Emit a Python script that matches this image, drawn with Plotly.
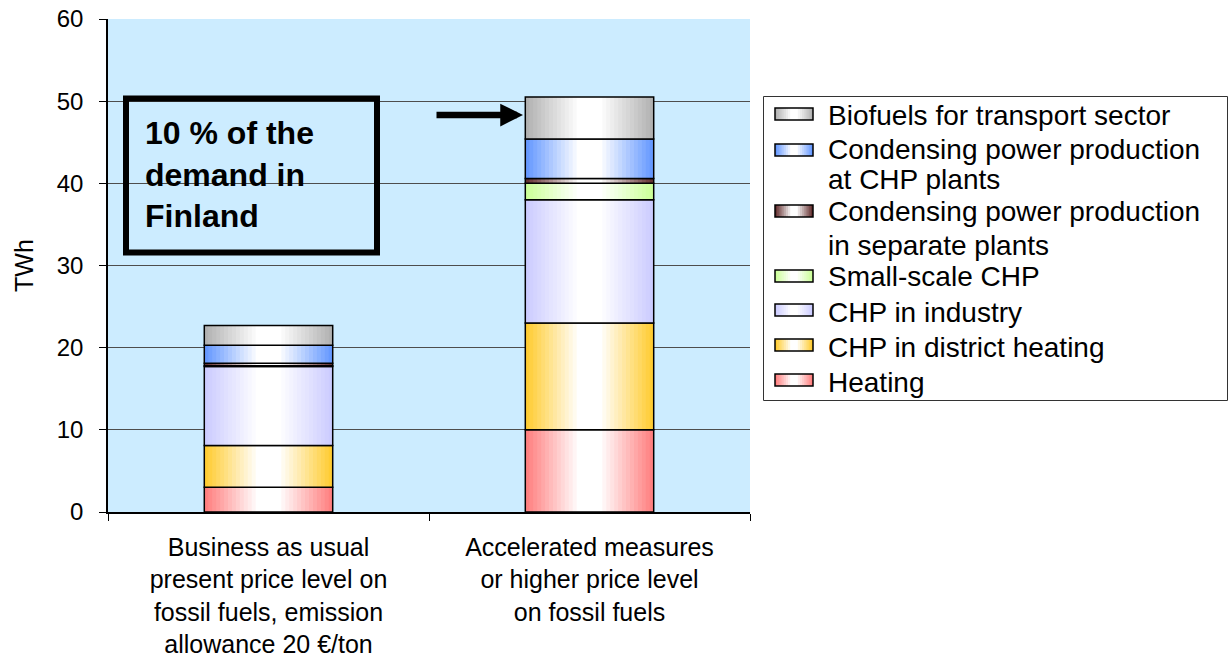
import numpy as np
import plotly.graph_objects as go

# Scenario categories (x axis)
categories = [
    "Business as usual<br>present price level on<br>fossil fuels, emission<br>allowance 20 €/ton",
    "Accelerated measures<br>or higher price level<br>on fossil fuels",
]

# Energy use by sector, TWh (bottom of stack first)
heating = [3.0, 10.0]
chp_district = [5.1, 13.0]
chp_industry = [9.6, 15.0]
small_chp = [0.1, 2.0]
cond_separate = [0.3, 0.6]
cond_chp = [2.2, 4.8]
biofuels = [2.4, 5.1]

series_names = [
    "Heating",
    "CHP in district heating",
    "CHP in industry",
    "Small-scale CHP",
    "Condensing power production<br>in separate plants",
    "Condensing power production<br>at CHP plants",
    "Biofuels for transport sector",
]
series_values = [heating, chp_district, chp_industry, small_chp,
                 cond_separate, cond_chp, biofuels]
edge_colors = [
    (255, 128, 128),
    (255, 204, 51),
    (204, 204, 255),
    (204, 255, 153),
    (102, 51, 51),
    (102, 153, 255),
    (178, 178, 178),
]

BAR_W = 0.4
N_LAYERS = 14
FONT = "Arial, Liberation Sans, sans-serif"

# plot-area geometry in pixels
W, H = 1229, 664
L, R, T, B = 108, 750, 19, 512


def px(x):
    return (x - L) / (R - L)


def py(y):
    return (B - y) / (B - T)


def mix_white(rgb, t):
    r, g, b = (int(round(c + (255 - c) * t)) for c in rgb)
    return f"rgb({r},{g},{b})"


fig = go.Figure()

bases = np.zeros(len(categories))
for name, vals, col in zip(series_names, series_values, edge_colors):
    vals = np.asarray(vals, dtype=float)
    # horizontal gradient: saturated at the edges, white in the middle
    for k in range(N_LAYERS):
        t = k / (N_LAYERS - 1)
        w = BAR_W * (1 - 0.8 * t)
        fig.add_trace(go.Bar(
            x=categories, y=vals, base=bases, width=w,
            name=name.replace("<br>", " "), showlegend=False,
            marker=dict(color=mix_white(col, t), line=dict(width=0)),
            hoverinfo="skip" if k else None,
        ))
    # outline on top of the gradient layers
    fig.add_trace(go.Bar(
        x=categories, y=vals, base=bases, width=BAR_W,
        showlegend=False, hoverinfo="skip",
        marker=dict(color="rgba(0,0,0,0)", line=dict(color="black", width=1.5)),
    ))
    bases = bases + vals

shapes = []
annotations = []

# ---- legend panel (top entry first) ----
LEG_X0, LEG_X1, LEG_Y0, LEG_Y1 = 763.5, 1227.5, 96.5, 400.5
shapes.append(dict(type="rect", xref="paper", yref="paper",
                   x0=px(LEG_X0), x1=px(LEG_X1), y0=py(LEG_Y1), y1=py(LEG_Y0),
                   line=dict(color="#333", width=1), fillcolor="white"))
# (swatch centre y, y of each text line)
legend_rows = [(114, [116]), (150, [149, 180]), (211, [212, 245]),
               (276, [276]), (310, [312]), (345, [347]), (380, [382])]
SW_X0, SW_X1, SW_H = 775, 813, 12
for idx, (sy, ty) in zip(range(len(series_names) - 1, -1, -1), legend_rows):
    col = edge_colors[idx]
    n_sw = 8
    for k in range(n_sw):
        t = k / (n_sw - 1)
        half = (SW_X1 - SW_X0) / 2 * (1 - 0.8 * t)
        cx = (SW_X0 + SW_X1) / 2
        shapes.append(dict(type="rect", xref="paper", yref="paper",
                           x0=px(cx - half), x1=px(cx + half),
                           y0=py(sy + SW_H / 2), y1=py(sy - SW_H / 2),
                           line=dict(width=0), fillcolor=mix_white(col, t)))
    shapes.append(dict(type="rect", xref="paper", yref="paper",
                       x0=px(SW_X0), x1=px(SW_X1),
                       y0=py(sy + SW_H / 2), y1=py(sy - SW_H / 2),
                       line=dict(color="black", width=1.5)))
    for line_txt, yy in zip(series_names[idx].split("<br>"), ty):
        annotations.append(dict(text=line_txt, xref="paper", yref="paper",
                                x=px(826), y=py(yy), xanchor="left",
                                yanchor="middle", showarrow=False,
                                font=dict(size=28, family=FONT)))

# ---- highlighted note and arrow ----
shapes.append(dict(type="rect", xref="paper", yref="paper",
                   x0=px(126), x1=px(377), y0=py(252.5), y1=py(98.5),
                   line=dict(color="black", width=6), fillcolor="rgba(0,0,0,0)"))
annotations.append(dict(text="<b>10 % of the<br>demand in<br>Finland</b>",
                        xref="paper", yref="paper", x=px(143), y=py(174),
                        xanchor="left", yanchor="middle", align="left",
                        showarrow=False, font=dict(size=32, family=FONT)))
annotations.append(dict(text="", xref="paper", yref="paper", x=px(523), y=py(115),
                        ax=-88, ay=0, showarrow=True, arrowhead=2, arrowsize=0.7,
                        arrowwidth=6.5, arrowcolor="black", standoff=0))

fig.update_layout(
    width=W, height=H,
    barmode="overlay",
    showlegend=False,
    paper_bgcolor="white",
    plot_bgcolor="rgb(204,236,255)",
    margin=dict(l=L, r=W - R, t=T, b=H - B, autoexpand=False),
    font=dict(family=FONT, color="black"),
    xaxis=dict(
        showline=True, linecolor="black", linewidth=1.5,
        ticks="outside", ticklen=7, tickcolor="black", tickson="boundaries",
        tickfont=dict(size=25), ticklabelstandoff=12, showgrid=False,
        range=[-0.5, 1.5], automargin=False,
    ),
    yaxis=dict(
        range=[0, 60], dtick=10,
        showline=True, linecolor="black", linewidth=1.5,
        ticks="outside", ticklen=7, tickcolor="black",
        tickfont=dict(size=24), ticklabelstandoff=11,
        showgrid=True, gridcolor="#4d4d4d", gridwidth=1,
        zeroline=False, automargin=False,
        title=dict(text="TWh", font=dict(size=25), standoff=16),
    ),
    shapes=shapes,
    annotations=annotations,
)

fig.write_html("out.html")
